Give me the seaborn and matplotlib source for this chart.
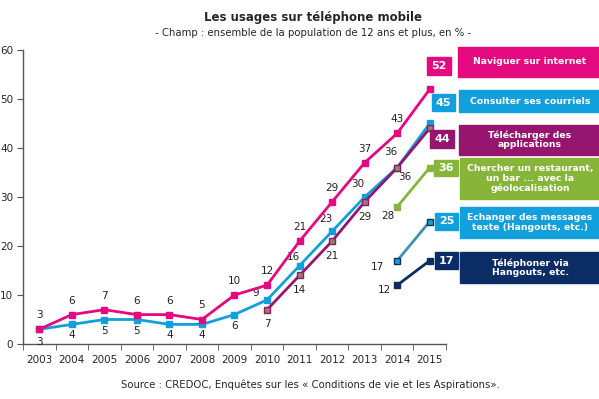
import matplotlib
matplotlib.use("Agg")
import matplotlib.pyplot as plt
from matplotlib.patches import Rectangle
import pandas as pd
import seaborn as sns

# --- data ---
years = list(range(2003, 2016))
internet = [3, 6, 7, 6, 6, 5, 10, 12, 21, 29, 37, 43, 52]
courriels = [3, 4, 5, 5, 4, 4, 6, 9, 16, 23, 30, 36, 45]
applis_years = [2010, 2011, 2012, 2013, 2014, 2015]
applis = [7, 14, 21, 29, 36, 44]
recent_years = [2014, 2015]
geoloc = [28, 36]
messages = [17, 25]
hangouts = [12, 17]

labels = ["Naviguer sur internet",
          "Consulter ses courriels",
          "Télécharger des\napplications",
          "Chercher un restaurant,\nun bar ... avec la\ngéolocalisation",
          "Echanger des messages\ntexte (Hangouts, etc.)",
          "Téléphoner via\nHangouts, etc."]

PINK, BLUE, PURPLE, GREEN = "#E4097F", "#12A0DD", "#96166F", "#86B53A"
STEEL, NAVY = "#3F93B2", "#0C2C66"

# name, x, y, line colour, marker face, marker edge, box colour,
# label offsets (pixels), value box (px), label box (px)
series = [
    ("geoloc", recent_years, geoloc, GREEN, GREEN, GREEN, GREEN,
     [(-9, -9)], (434, 160, 458, 176), (460, 158, 620, 199)),
    ("messages", recent_years, messages, STEEL, BLUE, NAVY, BLUE,
     [(-20, -6)], (435, 213, 458, 230), (460, 207, 620, 238)),
    ("hangouts", recent_years, hangouts, NAVY, NAVY, NAVY, NAVY,
     [(-13, -5)], (435, 252, 458, 269), (460, 252, 620, 283)),
    ("courriels", years, courriels, BLUE, BLUE, BLUE, BLUE,
     [(0, -13)] + [(0, -11)] * 6 + [(-11, 7), (-6, 9), (-6, 12), (-7, 13), (-6, 16)],
     (432, 94, 455, 111), (459, 90, 620, 112)),
    ("applis", applis_years, applis, PURPLE, "#8C8468", PURPLE, PURPLE,
     [(0, -14), (0, -15), (0, -15), (0, -15), (8, -9)],
     (430, 130, 454, 148), (459, 125, 620, 155)),
    ("internet", years, internet, PINK, PINK, PINK, PINK,
     [(0, 14)] * 12, (427, 57, 451, 75), (458, 47, 620, 77)),
]
label_order = ["internet", "courriels", "applis", "geoloc", "messages", "hangouts"]

sns.set_style("white")
plt.rcParams["font.family"] = ["DejaVu Sans"]

W, H = 599, 399
fig = plt.figure(figsize=(W / 100, H / 100), dpi=100)
ax = fig.add_axes([23 / W, 1 - 344 / H, (446 - 23) / W, (344 - 50) / H])

for name, xs, ys, lc, mfc, mec, bc, offs, vbox, lbox in series:
    df = pd.DataFrame({"year": xs, "value": ys})
    sns.lineplot(data=df, x="year", y="value", ax=ax, color=lc, linewidth=2,
                 marker="s", markersize=4.5, markerfacecolor=mfc,
                 markeredgecolor=mec, markeredgewidth=1, zorder=3)
    for (x, y), (dx, dy) in zip(zip(xs[:-1], ys[:-1]), offs):
        ax.annotate(str(y), (x, y), xytext=(dx, dy), textcoords="offset pixels",
                    ha="center", va="center", fontsize=7.5, color="#222222")
    # value box
    x0, y0, x1, y1 = vbox
    fig.patches.append(Rectangle((x0 / W, 1 - y1 / H), (x1 - x0) / W, (y1 - y0) / H,
                                 transform=fig.transFigure, color=bc, zorder=1))
    fig.text((x0 + x1) / 2 / W, 1 - (y0 + y1) / 2 / H, str(ys[-1]), ha="center",
             va="center", color="white", fontsize=8, fontweight="bold")
    # label box
    x0, y0, x1, y1 = lbox
    fig.patches.append(Rectangle((x0 / W, 1 - y1 / H), (x1 - x0) / W, (y1 - y0) / H,
                                 transform=fig.transFigure, color=bc, zorder=1))
    fig.text(530 / W, 1 - (y0 + y1) / 2 / H, labels[label_order.index(name)],
             ha="center", va="center", color="white", fontsize=6.7, fontweight="bold",
             linespacing=1.05)

ax.set_xlim(2002.5, 2015.5)
ax.set_ylim(0, 60)
ax.set_xticks(years)
ax.set_xticks([y - 0.5 for y in years] + [2015.5], minor=True)
ax.set_yticks(range(0, 61, 10))
ax.tick_params(axis="x", which="major", length=0, pad=8, labelsize=7.5)
ax.tick_params(axis="x", which="minor", length=4, direction="out", color="#555555", bottom=True)
ax.tick_params(axis="y", length=4, direction="out", pad=3, labelsize=7.5, color="#555555", left=True)
ax.set_xlabel("")
ax.set_ylabel("")
for s in ["top", "right"]:
    ax.spines[s].set_visible(False)
for s in ["left", "bottom"]:
    ax.spines[s].set_color("#555555")
    ax.spines[s].set_linewidth(1)

fig.text(313 / W, 1 - 17 / H, "Les usages sur téléphone mobile", ha="center",
         va="center", fontsize=8.5, fontweight="bold")
fig.text(313 / W, 1 - 33 / H, "- Champ : ensemble de la population de 12 ans et plus, en % -",
         ha="center", va="center", fontsize=7.3)
fig.text(310 / W, 1 - 385 / H,
         "Source : CREDOC, Enquêtes sur les « Conditions de vie et les Aspirations».",
         ha="center", va="center", fontsize=7.3)

fig.savefig("out.png", dpi=100)
